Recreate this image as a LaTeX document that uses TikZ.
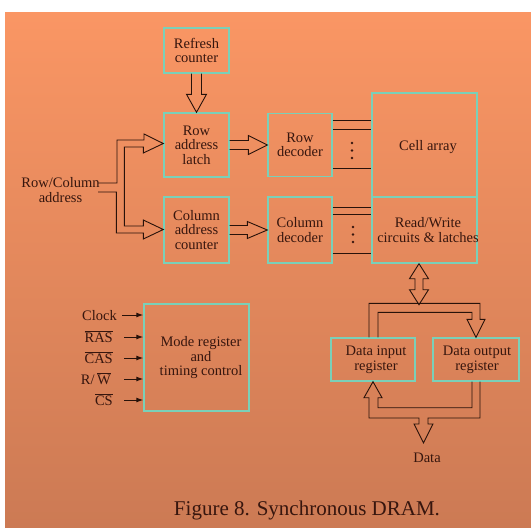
\documentclass[tikz,border=0pt]{standalone}
\usepackage{fontspec}
\setmainfont{Liberation Serif}
\usetikzlibrary{calc,arrows.meta}
\definecolor{bgtop}{RGB}{250,150,100}
\definecolor{bgbot}{RGB}{204,122,84}
\definecolor{boxc}{RGB}{122,208,184}
\definecolor{ink}{RGB}{55,22,14}
\definecolor{wire}{RGB}{40,18,10}
\begin{document}
\begin{tikzpicture}[x=1pt,y=-1pt,
  every node/.style={font=\fontsize{14.5}{14.5}\selectfont, text=ink, inner sep=0pt, align=center},
  blk/.style={draw=boxc, line width=1.4pt},
  hol/.style={draw=wire, line width=0.9pt, line join=miter},
  wirel/.style={draw=wire, line width=1pt},
  inarr/.style={draw=wire, line width=1pt, -{Latex[length=7pt,width=5pt]}}]
\useasboundingbox (0,0) rectangle (531,528);
\fill[white] (0,0) rectangle (531,528);
\shade[top color=bgtop, bottom color=bgbot] (5,12) rectangle (531,528);

% blocks
\node[blk, minimum width=65pt, minimum height=45pt] (refresh) at (196.5,50.5) {Refresh\\counter};
\node[blk, minimum width=65pt, minimum height=64pt] (rowlatch) at (196.5,145) {Row\\address\\latch};
\node[blk, minimum width=65pt, minimum height=66pt] (colcnt) at (196.5,230) {Column\\address\\counter};
\node[blk, minimum width=64pt, minimum height=63pt] (rowdec) at (300,145) {Row\\decoder};
\node[blk, minimum width=64pt, minimum height=66pt] (coldec) at (300,230) {Column\\decoder};
\node[blk, minimum width=105pt, minimum height=104pt] (cell) at (424.5,145) {};
\node (celltext) at (428,147) {Cell array};
\node[blk, minimum width=105pt, minimum height=66pt] (rw) at (424.5,230) {};
\node (rwtext) at (428,230) {Read/Write\\circuits \& latches};
\node[blk, minimum width=105pt, minimum height=107pt] (mode) at (196.5,357.5) {};
\node (modetext) at (201,358) {Mode register\\and\\timing control};
\node[blk, minimum width=84pt, minimum height=43pt] (din) at (373,359.5) {};
\node (dintext) at (376,360) {Data input\\register};
\node[blk, minimum width=86pt, minimum height=43pt] (dout) at (476,359.5) {};
\node (douttext) at (477,360) {Data output\\register};
\node (data) at (427,458) {Data};
\node[font=\fontsize{21}{21}\selectfont] (cap) at (307,510) {Figure 8. Synchronous DRAM.};
\node (addr) at (60.5,190) {Row/Column\\address};

% control inputs
\node[anchor=base east] (clk) at (117,320) {Clock};
\node[anchor=base east] (ras) at (113,342) {$\overline{\hbox{RAS}}$};
\node[anchor=base east] (cas) at (113,363) {$\overline{\hbox{CAS}}$};
\node[anchor=base east] (rwl) at (111,384) {R/\,$\overline{\hbox{W}}$};
\node[anchor=base east] (cs) at (113,405) {$\overline{\hbox{CS}}$};
\coordinate (i1) at ($(clk.base east)+(5,-5)$);
\coordinate (i2) at ($(ras.base east)+(11,-5)$);
\coordinate (i3) at ($(cas.base east)+(11,-5)$);
\coordinate (i4) at ($(rwl.base east)+(13,-5)$);
\coordinate (i5) at ($(cs.base east)+(11,-5)$);
\foreach \c in {i1,i2,i3,i4,i5} \draw[inarr] (\c) -- (\c -| mode.west);

% refresh -> row latch
\draw[hol] ($(refresh.south)+(-5,0)$) -- ($(rowlatch.north)+(-5,-18)$) -- ++(-5,0) -- (rowlatch.north)
  -- ++(10,-18) -- ++(-5,0) -- ($(refresh.south)+(5,0)$);
% row latch -> row decoder
\draw[hol] ($(rowlatch.east)+(0,-4.5)$) -- ($(rowdec.west)+(-19,-4.5)$) -- ++(0,-5) -- (rowdec.west)
  -- ++(-19,9.5) -- ++(0,-5) -- ($(rowlatch.east)+(0,4.5)$);
% column counter -> column decoder
\draw[hol] ($(colcnt.east)+(0,-4.5)$) -- ($(coldec.west)+(-20,-4.5)$) -- ++(0,-4) -- (coldec.west)
  -- ++(-20,8.5) -- ++(0,-4) -- ($(colcnt.east)+(0,4.5)$);

% address split
\coordinate (a1) at (98,183);
\coordinate (a2) at (98,192);
\coordinate (t1) at ($(rowlatch.west)+(0,-1.5)$);
\coordinate (t2) at ($(colcnt.west)+(0,-0.5)$);
\draw[hol] (a1) -- ++(19,0) -- ++(0,-43) -- ++(27,0) -- ++(0,-6) -- (t1) -- ++(-20,9.5) -- ++(0,-6)
  -- ++(-19,0) -- ++(0,79) -- ++(19,0) -- ++(0,-6) -- (t2) -- ++(-20,9.5) -- ++(0,-6)
  -- ++(-27,0) -- ++(0,-41) -- (a2);

% decoder lines
\foreach \y in {120,129,168} \draw[wirel] (rowdec.east |- 0,\y) -- (cell.west |- 0,\y);
\foreach \y in {207,214,253} \draw[wirel] (coldec.east |- 0,\y) -- (rw.west |- 0,\y);
\foreach \y in {143,150.5,158} \fill[ink] (352,\y) circle (1.3);
\foreach \y in {227,234.5,242} \fill[ink] (353,\y) circle (1.3);

% rw <-> data bus
\coordinate (bt) at ($(rw.south)+(-5.5,0)$);
\coordinate (bb) at ($(bt)+(0,41)$);
\draw[hol] (bt) -- ++(9.5,15) -- ++(-5.5,0) -- ++(0,11) -- ++(5.5,0) -- (bb) -- ++(-9.5,-15)
  -- ++(5.5,0) -- ++(0,-11) -- ++(-5.5,0) -- cycle;
% top loop to data output register
\draw[hol] ($(din.north)+(-4,0)$) -- ++(0,-34) -- ($(dout.north)+(4,-34)$) -- ++(0,16) -- ++(5,0)
  -- (dout.north) -- ++(-9,-18) -- ++(5,0) -- ++(0,-7) -| ($(din.north)+(5,0)$);
% bottom loop to data input register and data pins
\coordinate (dtip) at ($(data.north)+(-3.5,-10)$);
\draw[hol] ($(dout.south)+(-4,0)$) -- ++(0,26) -| ($(din.south)+(5,16)$) -- ++(4,0) -- (din.south)
  -- ++(-9,16) -- ++(5,0) |- ($(dtip)+(-4.5,-25)$) -- ++(0,6) -- ++(-5,0) -- (dtip)
  -- ++(9.5,-19) -- ++(-5,0) -- ++(0,-6) -| ($(dout.south)+(4,0)$);
\end{tikzpicture}
\end{document}
